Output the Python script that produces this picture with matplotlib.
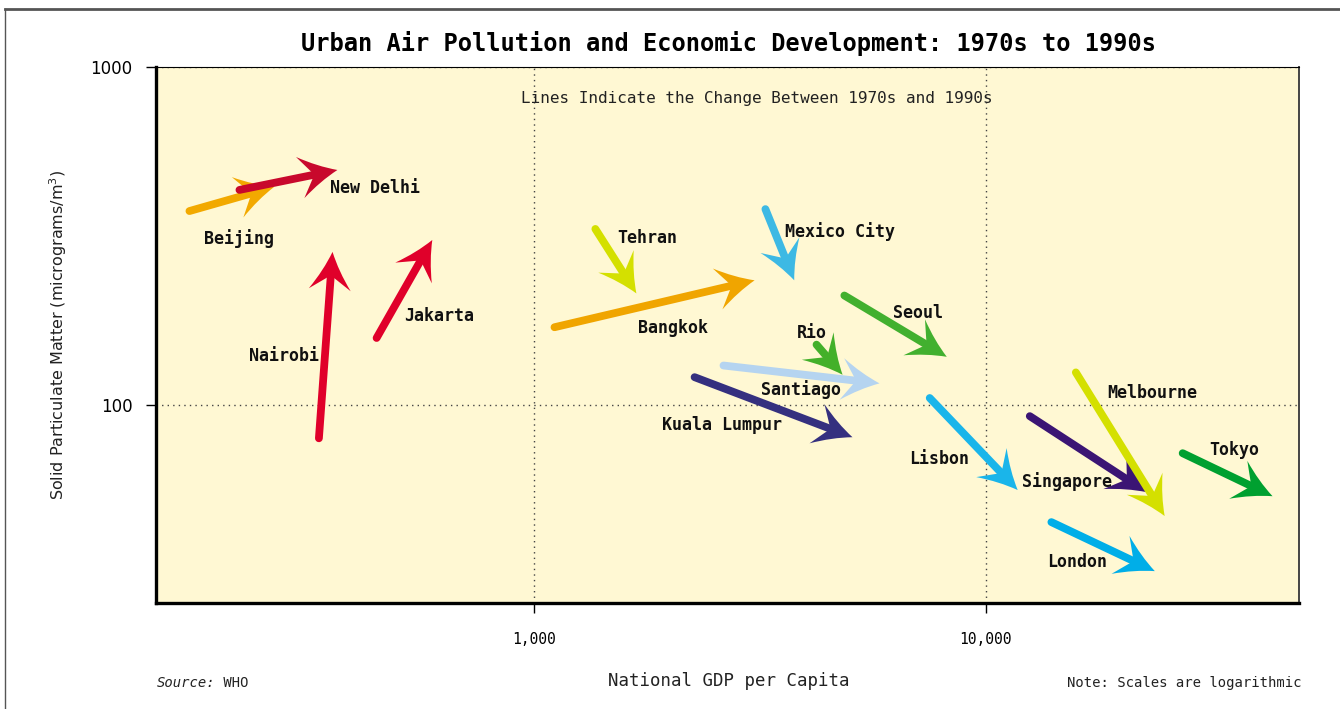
import numpy as np
import matplotlib
matplotlib.use("Agg")
import matplotlib.pyplot as plt
from matplotlib.path import Path
from matplotlib.patches import PathPatch
from matplotlib.lines import Line2D

plt.rcParams.update({"font.family": "DejaVu Sans Mono"})

# city, GDP per capita 1970s -> 1990s, particulate matter 1970s -> 1990s
cities = ["Beijing", "New Delhi", "Nairobi", "Jakarta", "Tehran", "Bangkok",
          "Mexico City", "Seoul", "Rio", "Santiago", "Kuala Lumpur", "Lisbon",
          "Singapore", "Melbourne", "Tokyo", "London"]
gdp_1970s = [172, 222, 333, 447, 1365, 1108, 3251, 4864, 4220, 2625, 2265,
             7520, 12530, 15850, 27340, 13990]
gdp_1990s = [265, 366, 357, 594, 1683, 3077, 3766, 8204, 4820, 5820, 5070,
             11780, 22750, 24940, 43250, 23720]
pm_1970s = [375, 433, 79.8, 158, 332, 170, 380, 211, 151, 131, 121, 105,
            92.8, 125, 72.1, 45.1]
pm_1990s = [442, 496, 284, 308, 214, 234, 234, 139, 123, 116, 80.4, 56.1,
            55.3, 47.0, 53.8, 32.3]
colors = ["#f2a900", "#c8082c", "#e0002a", "#e0002a", "#d4e000", "#f0a500",
          "#3db9e4", "#42b02f", "#43b02a", "#b5d4f0", "#35307f", "#1ab5ea",
          "#3b1574", "#d4e000", "#00a030", "#00aee8"]

# where each city name sits
label_x = [221, 444, 278, 616, 1781, 2033, 4746, 7100, 4114, 3890, 2611,
           7870, 15130, 23350, 35650, 15920]
label_y = [312, 439, 140, 183, 312, 169, 327, 187, 163, 111, 87.3, 69.2,
           59.6, 109, 73.6, 34.3]

fig = plt.figure(figsize=(13.4, 7.09), dpi=100)
ax = fig.add_axes([0.1164, 0.1495, 0.853, 0.756])
ax.set_facecolor("#fff8d3")
ax.set_xscale("log"); ax.set_yscale("log")
ax.set_xlim(145, 49500); ax.set_ylim(26, 1000)
ax.minorticks_off()
ax.set_xticks([1000, 10000], ["1,000", "10,000"])
ax.set_yticks([100, 1000], ["100", "1000"])
ax.tick_params(axis="x", direction="out", length=7, width=1, pad=14, labelsize=10.5)
ax.tick_params(axis="y", direction="out", length=7, width=1, pad=10, labelsize=12)
for lab in ax.get_yticklabels():
    lab.set_family("DejaVu Sans")
ax.grid(True, which="major", ls=(0, (1, 3)), color="#444444", lw=1)
ax.spines["left"].set_linewidth(2.4)
ax.spines["bottom"].set_linewidth(2.4)
ax.spines["top"].set_linewidth(0.8)
ax.spines["right"].set_linewidth(1.4); ax.spines["right"].set_color("#444444")

HEAD_L, HEAD_W, NOTCH = 38, 42, 0.62


def draw_arrow(x0, y0, x1, y1, color, z):
    T = ax.transData
    p0 = T.transform((x0, y0)); p1 = T.transform((x1, y1))
    d = p1 - p0; u = d / np.hypot(*d); n = np.array([-u[1], u[0]])
    base = p1 - HEAD_L * u
    notch = p1 - NOTCH * HEAD_L * u
    b1 = base + HEAD_W / 2 * n; b2 = base - HEAD_W / 2 * n
    c1 = (p1 + b1) / 2 - 3 * n; c2 = (p1 + b2) / 2 + 3 * n
    verts = [p1, c1, b1, notch, b2, c2, p1]
    codes = [Path.MOVETO, Path.CURVE3, Path.CURVE3, Path.LINETO, Path.LINETO,
             Path.CURVE3, Path.CURVE3]
    head = Path(T.inverted().transform(verts), codes)
    ax.add_patch(PathPatch(head, fc=color, ec="none", zorder=z + 0.5))
    s1 = T.inverted().transform(notch + 2 * u)
    ax.plot([x0, s1[0]], [y0, s1[1]], color=color, lw=5.6,
            solid_capstyle="round", zorder=z)


fig.canvas.draw()
for i in range(len(cities)):
    draw_arrow(gdp_1970s[i], pm_1970s[i], gdp_1990s[i], pm_1990s[i], colors[i], 3 + i)
    ax.text(label_x[i], label_y[i], cities[i], ha="center", va="center",
            fontsize=12, fontweight="bold", color="#111111", zorder=30)

ax.text(0.526, 0.942, "Lines Indicate the Change Between 1970s and 1990s",
        transform=ax.transAxes, ha="center", va="center", fontsize=11.5, color="#222222")
ax.set_ylabel("Solid Particulate Matter (micrograms/m$^3$)", family="DejaVu Sans",
              fontsize=11.5, labelpad=15, color="#222222")

fig.text(0.544, 0.938, "Urban Air Pollution and Economic Development: 1970s to 1990s",
         ha="center", va="center", fontsize=17, fontweight="bold")
fig.text(0.544, 0.039, "National GDP per Capita", ha="center", va="center",
         fontsize=12.5, color="#222222")
src = fig.text(0.117, 0.037, "Source:", ha="left", va="center", fontsize=10,
               style="italic", color="#222222")
ax.annotate(" WHO", xy=(1, 0.5), xycoords=src, ha="left", va="center",
            fontsize=10, color="#222222", annotation_clip=False)
fig.text(0.971, 0.037, "Note: Scales are logarithmic", ha="right", va="center",
         fontsize=10, color="#222222")

# outer frame (top and left edges)
fig.add_artist(Line2D([0.004, 1.0], [0.988, 0.988], transform=fig.transFigure,
                      color="#555555", lw=2))
fig.add_artist(Line2D([0.004, 0.004], [0.0, 0.988], transform=fig.transFigure,
                      color="#555555", lw=1.0))

fig.savefig("out.png", dpi=100)
